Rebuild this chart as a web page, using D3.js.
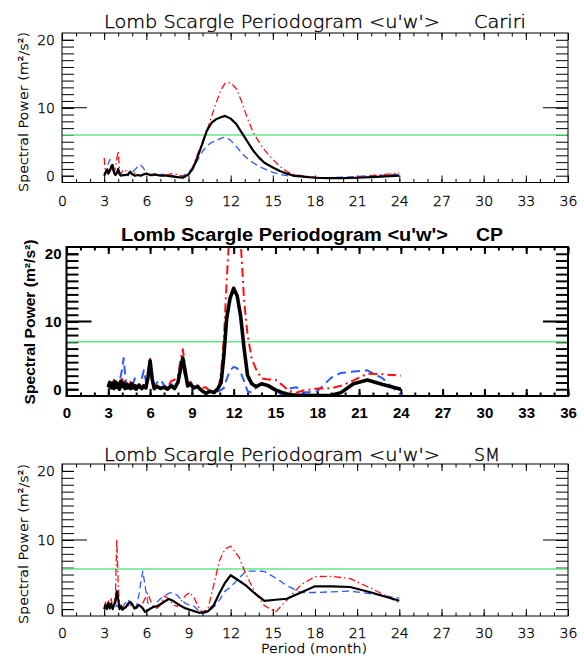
<!DOCTYPE html>
<html>
<head>
<meta charset="utf-8">
<script src="https://cdn.jsdelivr.net/npm/d3@7"></script>
<style>
  body { margin: 0; background: #fff; }
</style>
</head>
<body>
<div id="chart"></div>
<script>
// tick labels
const xTickLabels = [0, 3, 6, 9, 12, 15, 18, 21, 24, 27, 30, 33, 36];
const yTickLabels = [0, 10, 20];
const sites = ['Cariri', 'CP', 'SM'];
const sigLevels = [6.0, 7.0, 5.8];

// Cariri
const periodsCariri = [3.0, 3.1, 3.2, 3.3, 3.4, 3.5, 3.6, 3.7, 3.8, 3.9,
    4.0, 4.1, 4.2, 4.35, 4.5, 4.7, 4.85, 5.0, 5.2, 5.4,
    5.6, 5.8, 6.0, 6.3, 6.6, 7.0, 7.4, 7.8, 8.2, 8.6,
    9.0, 9.3, 9.6, 10.0, 10.3, 10.65, 11.0, 11.3, 11.6, 12.0,
    12.4, 12.8, 13.2, 13.6, 14.0, 14.4, 15.0, 15.5, 16.0, 16.5,
    17.0, 18.0, 19.0, 20.0, 21.0, 22.0, 23.0, 24.0];
const blackCariri = [0.0, 0.5, 0.9, 0.3, 0.8, 1.3, 1.6, 0.5, 0.1, 0.4,
    1.0, 0.2, 0.0, 0.1, 0.1, 0.2, 0.6, 0.2, 0.0, 0.1,
    0.0, 0.2, 0.3, 0.1, 0.2, 0.0, 0.0, -0.1, -0.2, -0.3,
    0.2, 1.0, 2.5, 4.8, 6.6, 7.8, 8.35, 8.6, 8.8, 8.4,
    7.6, 6.3, 5.0, 3.7, 2.7, 1.9, 1.2, 0.7, 0.3, 0.0,
    -0.1, -0.3, -0.35, -0.35, -0.3, -0.2, -0.1, 0.0];
const redCariri = [2.6, 0.3, 0.8, 1.2, 0.4, 1.5, 0.6, 0.3, 1.2, 2.5,
    3.6, 0.5, 0.3, 0.8, 0.9, 0.2, 0.6, 0.1, 0.4, 0.1,
    0.0, 0.1, 0.3, 0.1, 0.1, 0.0, 0.1, 0.3, 0.2, -0.1,
    0.1, 1.3, 2.9, 5.0, 6.6, 8.8, 10.9, 12.6, 13.6, 13.7,
    12.8, 10.8, 8.4, 6.4, 5.0, 3.8, 2.4, 1.4, 0.6, 0.2,
    0.0, -0.2, -0.4, -0.4, -0.2, 0.0, 0.2, 0.4];
const blueCariri = [0.1, 0.5, 1.0, 1.8, 2.4, 1.8, 0.8, 0.2, 0.3, 0.6,
    0.4, 0.2, 0.1, 0.2, 0.1, 0.0, 0.3, 0.5, 0.9, 1.4,
    1.6, 1.1, 0.4, 0.0, 0.0, 0.2, 0.2, 0.0, -0.1, 0.0,
    0.5, 1.2, 2.1, 3.6, 4.4, 4.9, 5.2, 5.5, 5.7, 5.2,
    4.3, 3.3, 2.5, 1.9, 1.4, 1.0, 0.5, 0.2, 0.0, -0.1,
    -0.2, -0.3, -0.3, -0.2, -0.1, 0.0, 0.1, 0.2];

// CP
const periodsCP = [3.0, 3.1, 3.2, 3.3, 3.4, 3.5, 3.6, 3.7, 3.8, 3.9,
    4.0, 4.1, 4.2, 4.3, 4.4, 4.5, 4.6, 4.7, 4.8, 4.9,
    5.0, 5.2, 5.4, 5.55, 5.7, 5.85, 6.0, 6.15, 6.3, 6.5,
    6.75, 7.0, 7.25, 7.5, 7.75, 8.0, 8.2, 8.35, 8.5, 8.7,
    8.9, 9.1, 9.4, 9.7, 10.0, 10.3, 10.6, 10.9, 11.1, 11.3,
    11.5, 11.75, 12.0, 12.25, 12.5, 12.75, 13.0, 13.3, 13.6, 14.0,
    14.5, 15.0, 15.5, 16.0, 16.5, 17.0, 18.0, 19.0, 19.7, 20.6,
    21.6, 22.7, 24.0];
const blackCP = [0.3, 1.0, 0.2, 0.9, 0.1, 1.1, 0.3, 0.8, 0.0, 1.2,
    0.4, 0.9, 0.1, 0.7, 0.2, 0.6, 0.1, 0.8, 0.2, 0.5,
    0.0, 0.6, 0.1, 0.5, 0.2, 1.8, 4.2, 1.5, 0.1, 0.4,
    0.1, 0.3, 0.0, 0.5, 0.1, 1.0, 3.2, 4.6, 2.8, 0.5,
    0.8, 0.2, 0.4, -0.2, -0.6, -0.3, -0.5, 0.2, 1.0, 5.0,
    10.5, 13.5, 14.9, 13.8, 10.8, 6.0, 2.0, 0.8, 0.4, 0.8,
    0.5, -0.1, -0.5, -0.8, -0.9, -0.9, -0.95, -0.9, -0.5, 0.8,
    1.35, 0.7, 0.0];
const redCP = [0.8, 0.2, 1.2, 0.4, 1.4, 0.3, 1.0, 0.2, 1.3, 0.5,
    1.5, 0.3, 1.2, 0.2, 0.9, 0.3, 1.1, 0.2, 0.7, 0.1,
    0.6, 0.2, 0.9, 0.3, 0.5, 2.0, 4.5, 2.0, 0.3, 0.6,
    0.1, 0.5, 0.2, 1.2, 1.4, 2.0, 4.5, 5.9, 3.5, 0.8,
    1.1, 0.3, 0.6, 0.2, 0.3, -0.3, -0.2, 0.0, 2.5, 7.5,
    16.0, 25.0, 30.0, 27.0, 22.0, 13.0, 8.0, 4.5, 3.0, 1.6,
    1.45, 1.4, 0.6, -0.3, -0.5, -0.2, 0.1, 0.15, 0.5, 1.3,
    2.3, 2.2, 2.0];
const blueCP = [0.1, 0.6, 0.2, 1.0, 0.3, 0.7, 1.5, 0.4, 0.9, 2.0,
    3.0, 4.6, 2.4, 0.6, 1.2, 0.3, 0.8, 0.1, 0.9, 1.6,
    0.5, 0.2, 1.5, 2.8, 1.2, 2.5, 3.6, 1.8, 0.4, 1.0,
    1.4, 0.6, 0.2, 0.8, 0.3, 1.2, 2.6, 3.4, 2.0, 0.4,
    0.6, 0.0, 0.3, -0.3, -0.6, -0.2, -0.4, -0.3, -0.1, 0.2,
    1.5, 2.8, 3.3, 3.1, 2.5, 1.2, -0.3, -0.5, 0.2, 0.8,
    0.4, -0.3, -0.85, 0.1, 0.3, -0.5, -0.3, 1.7, 2.4, 2.6,
    2.8, 1.6, -0.85];

// SM
const periodsSM = [3.0, 3.1, 3.2, 3.3, 3.4, 3.5, 3.6, 3.7, 3.8, 3.9,
    4.0, 4.1, 4.2, 4.3, 4.4, 4.55, 4.7, 4.85, 5.0, 5.15,
    5.3, 5.45, 5.6, 5.75, 5.9, 6.1, 6.3, 6.5, 6.75, 7.0,
    7.3, 7.6, 7.9, 8.2, 8.5, 8.8, 9.1, 9.4, 9.7, 10.0,
    10.4, 10.8, 11.2, 11.6, 12.0, 12.6, 13.1, 13.7, 14.4, 15.2,
    16.0, 17.0, 18.0, 19.2, 20.5, 22.0, 24.0];
const blackSM = [0.0, 0.6, 0.0, 0.9, 0.1, 0.8, 0.0, 0.6, 1.0, 2.6,
    1.4, 0.0, 0.4, -0.1, 0.1, 0.3, 0.8, 1.05, 0.7, 0.1,
    0.2, 0.6, 0.4, 0.1, -0.4, -0.2, 0.1, 0.3, 0.4, 0.7,
    1.1, 1.45, 1.2, 0.8, 0.4, 0.1, -0.1, -0.3, -0.5, -0.5,
    -0.3, 0.6, 2.3, 3.8, 4.9, 4.1, 3.4, 2.3, 1.2, 1.35,
    1.5, 2.4, 3.3, 3.3, 3.2, 2.4, 1.2];
const redSM = [0.3, 1.0, 0.2, 1.2, 0.4, 1.5, 0.2, 0.8, 2.0, 10.1,
    3.5, 0.3, 0.6, 0.1, 0.6, 0.2, 0.6, 0.3, 0.8, 0.2,
    0.4, 0.1, 0.3, 0.9, 1.5, 2.3, 1.2, 0.4, 0.1, 0.6,
    1.9, 1.5, 0.6, 0.4, 1.2, 2.0, 2.4, 1.6, 0.3, -0.5,
    0.2, 3.5, 7.0, 8.7, 9.1, 7.5, 5.0, 2.5, 0.5, -0.4,
    1.3, 3.5, 4.7, 4.75, 4.4, 3.0, 0.9];
const blueSM = [0.0, 0.3, 0.1, 0.5, 0.2, 0.7, 0.3, 0.5, 0.2, 0.6,
    0.3, 0.1, 0.4, 0.2, 0.6, 1.0, 1.4, 0.8, 0.2, 0.0,
    0.5, 1.8, 3.8, 5.5, 3.5, 1.0, 0.0, 0.3, 1.0, 1.5,
    1.9, 2.3, 2.4, 2.0, 1.3, 0.8, 0.6, 0.4, -0.2, -0.7,
    -0.4, 0.3, 1.3, 2.6, 3.2, 4.5, 5.5, 5.5, 5.45, 4.5,
    3.4, 2.4, 2.4, 2.5, 2.6, 2.2, 1.6];

const thinFont = "'DejaVu Sans', sans-serif";
const boldFont = "'Liberation Sans', Arial, sans-serif";

const svg = d3.select('#chart').append('svg')
    .attr('width', 584)
    .attr('height', 658);

// thin stroke font text: darken a little with a hairline outline
function styleText(sel, bold) {
    sel.attr('font-family', bold ? boldFont : thinFont)
        .attr('font-weight', bold ? 'bold' : 200)
        .attr('fill', '#000');
    if (!bold) sel.attr('stroke', '#000').attr('stroke-width', 0.35);
    return sel;
}

function drawPanel(p, idx) {
    const w = p.x1 - p.x0;
    const h = p.y1 - p.y0;
    const g = svg.append('g').attr('transform', `translate(${p.x0},${p.y0})`);
    const lw = p.bold ? 2 : 1;

    const x = d3.scaleLinear().domain([0, 36]).range([0, w]);
    const y = d3.scaleLinear().domain([-1, 21]).range([h, 0]);

    g.append('clipPath').attr('id', 'clip' + idx)
        .append('rect').attr('width', w).attr('height', h);

    // ticks on all four sides, pointing inward
    const minorX = d3.range(0, 37);
    const minorY = d3.range(0, 21);
    const axes = [
        [`translate(0,${h})`, d3.axisBottom(x).tickValues(minorX).tickSizeInner(-3.5).tickFormat('')],
        [`translate(0,${h})`, d3.axisBottom(x).tickValues(xTickLabels).tickSizeInner(-7).tickPadding(p.xPad)],
        ['translate(0,0)', d3.axisBottom(x).tickValues(minorX).tickSizeInner(3.5).tickFormat('')],
        ['translate(0,0)', d3.axisBottom(x).tickValues(xTickLabels).tickSizeInner(7).tickFormat('')],
        ['translate(0,0)', d3.axisLeft(y).tickValues(minorY).tickSizeInner(-12).tickFormat('')],
        ['translate(0,0)', d3.axisLeft(y).tickValues(yTickLabels).tickSizeInner(-12).tickPadding(p.yPad)],
        [`translate(${w},0)`, d3.axisRight(y).tickValues(minorY).tickSizeInner(-12).tickFormat('')]
    ];
    axes.forEach(([t, ax]) => {
        const a = g.append('g').attr('transform', t).call(ax.tickSizeOuter(0));
        a.select('.domain').remove();
        a.selectAll('line').attr('stroke', '#000').attr('stroke-width', lw);
        styleText(a.selectAll('text'), p.bold).attr('font-size', p.tickSize);
    });
    // longer tick at 10 on the y axes
    g.append('line')
        .attr('x1', 0).attr('x2', 25)
        .attr('y1', y(10)).attr('y2', y(10))
        .attr('stroke', '#000').attr('stroke-width', lw);
    g.append('line')
        .attr('x1', w).attr('x2', w - 25)
        .attr('y1', y(10)).attr('y2', y(10))
        .attr('stroke', '#000').attr('stroke-width', lw);

    // significance level
    g.append('line')
        .attr('x1', 0).attr('x2', w)
        .attr('y1', y(sigLevels[idx])).attr('y2', y(sigLevels[idx]))
        .attr('stroke', '#62e885').attr('stroke-width', 1.5);

    const line = d3.line()
        .x((d, i) => x(p.periods[i]))
        .y(d => y(d));

    const series = [
        { values: p.blue, color: '#2f5cff', width: p.dashW, dash: p.bold ? '9,5' : '7,4' },
        { values: p.red, color: '#ff1010', width: p.dashW, dash: p.bold ? '9,4,2,4' : '7,3,1.5,3' },
        { values: p.black, color: '#000', width: p.solidW, dash: null }
    ];
    const curves = g.append('g').attr('clip-path', `url(#clip${idx})`);
    series.forEach(s => {
        curves.append('path')
            .datum(s.values)
            .attr('fill', 'none')
            .attr('stroke', s.color)
            .attr('stroke-width', s.width)
            .attr('stroke-dasharray', s.dash)
            .attr('stroke-linejoin', 'round')
            .attr('d', line);
    });

    g.append('rect')
        .attr('width', w).attr('height', h)
        .attr('fill', 'none')
        .attr('stroke', '#000')
        .attr('stroke-width', lw);

    // titles
    styleText(svg.append('text'), p.bold)
        .attr('x', p.titleX).attr('y', p.titleY)
        .attr('font-size', p.titleSize)
        .attr('textLength', p.titleLen).attr('lengthAdjust', 'spacingAndGlyphs')
        .text("Lomb Scargle Periodogram <u'w'>");
    styleText(svg.append('text'), p.bold)
        .attr('x', p.siteX).attr('y', p.titleY)
        .attr('font-size', p.titleSize)
        .attr('textLength', p.siteLen).attr('lengthAdjust', 'spacingAndGlyphs')
        .text(sites[idx]);

    // y label
    styleText(svg.append('text'), p.bold)
        .attr('transform', `translate(${p.ylabX},${p.ylabY}) rotate(-90)`)
        .attr('text-anchor', 'middle')
        .attr('font-size', p.ylabSize)
        .attr('textLength', p.ylabLen).attr('lengthAdjust', 'spacingAndGlyphs')
        .text('Spectral Power (m²/s²)');
}

const panels = [
    { periods: periodsCariri, black: blackCariri, red: redCariri, blue: blueCariri,
      x0: 62, x1: 568, y0: 33, y1: 182.5, bold: false, xPad: 14, yPad: 7, tickSize: 14,
      solidW: 2.2, dashW: 1.3, titleX: 104, titleY: 28, titleLen: 336, siteX: 474, siteLen: 52,
      titleSize: 17, ylabX: 28, ylabY: 112, ylabLen: 160, ylabSize: 13 },
    { periods: periodsCP, black: blackCP, red: redCP, blue: blueCP,
      x0: 66.5, x1: 568, y0: 247, y1: 396, bold: true, xPad: 11, yPad: 5, tickSize: 15,
      solidW: 3.6, dashW: 2, titleX: 121, titleY: 241, titleLen: 327, siteX: 476, siteLen: 27,
      titleSize: 18, ylabX: 35, ylabY: 322, ylabLen: 165, ylabSize: 14 },
    { periods: periodsSM, black: blackSM, red: redSM, blue: blueSM,
      x0: 62, x1: 568, y0: 464, y1: 616, bold: false, xPad: 12, yPad: 7, tickSize: 14,
      solidW: 2.2, dashW: 1.3, titleX: 104, titleY: 461, titleLen: 336, siteX: 474, siteLen: 26,
      titleSize: 17, ylabX: 28, ylabY: 544, ylabLen: 160, ylabSize: 13 }
];

panels.forEach(drawPanel);

styleText(svg.append('text'), false)
    .attr('x', 314).attr('y', 653)
    .attr('text-anchor', 'middle')
    .attr('font-size', 13)
    .attr('textLength', 106).attr('lengthAdjust', 'spacingAndGlyphs')
    .text('Period (month)');
</script>
</body>
</html>
